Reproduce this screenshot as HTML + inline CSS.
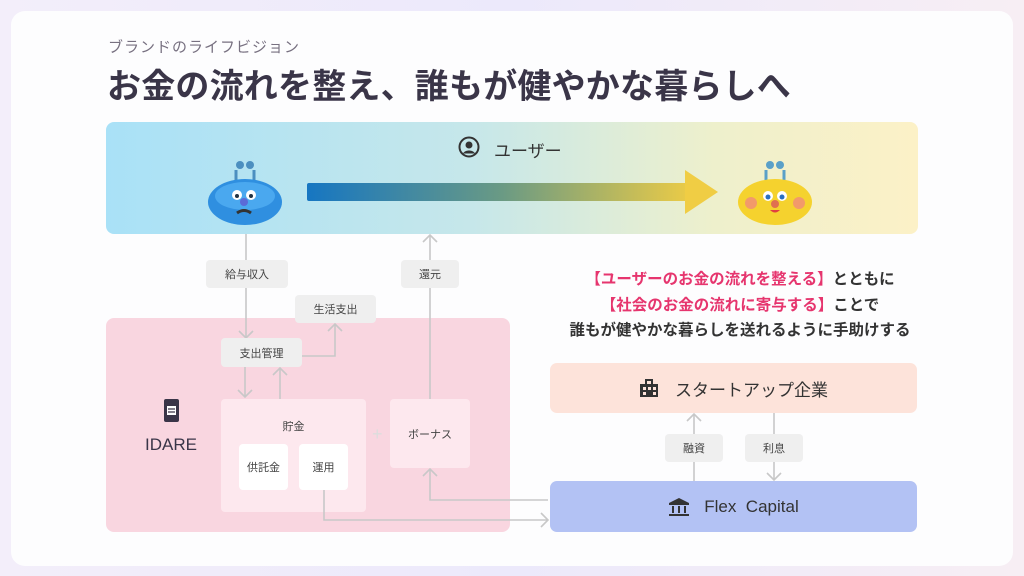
<!DOCTYPE html>
<html><head><meta charset="utf-8"><style>
*{margin:0;padding:0;box-sizing:border-box}
body{width:1024px;height:576px;overflow:hidden;background:linear-gradient(90deg,#f3eefa,#ece9fb 50%,#f7eef4);font-family:"Liberation Sans","Noto Sans CJK JP",sans-serif;position:relative;color:#3a3548}
.card{position:absolute;left:11px;top:11px;width:1002px;height:555px;background:#fdfdfe;border-radius:14px}
.a{position:absolute}
.lbl{position:absolute;background:#efefef;border-radius:4px;font-size:11px;color:#444;display:flex;align-items:center;justify-content:center}
.c{display:flex;align-items:center;justify-content:center}
</style></head><body>
<div class="card"></div>
<div class="a" style="left:108px;top:36px;font-size:15px;color:#777080;letter-spacing:1px">ブランドのライフビジョン</div>
<div class="a" style="left:107px;top:59px;font-size:34px;font-weight:bold;color:#3a3548;letter-spacing:0.2px;white-space:nowrap">お金の流れを整え、誰もが健やかな暮らしへ</div>

<div class="a" style="left:106px;top:122px;width:812px;height:112px;border-radius:8px;background:linear-gradient(90deg,#a9e1f7,#c6e7ea 45%,#eef0cc 75%,#fcf1c7)"></div>
<svg class="a" style="left:458px;top:136px" width="22" height="22" viewBox="0 0 22 22"><circle cx="11" cy="11" r="9.5" fill="none" stroke="#333" stroke-width="2"/><circle cx="11" cy="9" r="3.5" fill="#333"/><path d="M5 17.5c2-4 10-4 12 0" fill="#333"/></svg>
<div class="a" style="left:494px;top:137px;font-size:17px;color:#333">ユーザー</div>
<svg class="a" style="left:300px;top:165px" width="430" height="52"><defs><linearGradient id="g" x1="0" x2="1"><stop offset="0" stop-color="#1676c2"/><stop offset="0.5" stop-color="#6a9a84"/><stop offset="1" stop-color="#f0cd44"/></linearGradient></defs><rect x="7" y="18" width="390" height="18" rx="2" fill="url(#g)"/><path d="M385 5 L418 27 L385 49 Z" fill="#f0cd44"/></svg>
<svg class="a" style="left:206px;top:158px" width="80" height="68"><circle cx="34" cy="7" r="4" fill="#4c8fc0"/><circle cx="44" cy="7" r="4" fill="#4c8fc0"/><path d="M30 12 L30 22 M48 12 L48 22" stroke="#4c8fc0" stroke-width="3"/><ellipse cx="39" cy="44" rx="37" ry="23" fill="#2f8fe0"/><ellipse cx="39" cy="38" rx="30" ry="14" fill="#4aa8ef"/><circle cx="31" cy="37" r="5" fill="#fff"/><circle cx="45" cy="37" r="5" fill="#fff"/><circle cx="31" cy="38" r="2" fill="#234"/><circle cx="45" cy="38" r="2" fill="#234"/><circle cx="38" cy="44" r="4" fill="#5b6bd8"/><path d="M31 55 Q38 50 45 55" stroke="#333" stroke-width="3" fill="none"/></svg>
<svg class="a" style="left:736px;top:158px" width="80" height="68"><circle cx="34" cy="7" r="4" fill="#5aa0c8"/><circle cx="44" cy="7" r="4" fill="#5aa0c8"/><path d="M30 12 L30 22 M48 12 L48 22" stroke="#5aa0c8" stroke-width="3"/><ellipse cx="39" cy="44" rx="37" ry="23" fill="#f5d22e"/><circle cx="15" cy="45" r="6" fill="#f29a6a"/><circle cx="63" cy="45" r="6" fill="#f29a6a"/><circle cx="32" cy="38" r="5" fill="#fff"/><circle cx="46" cy="38" r="5" fill="#fff"/><circle cx="32" cy="39" r="2.5" fill="#2a6fc0"/><circle cx="46" cy="39" r="2.5" fill="#2a6fc0"/><circle cx="39" cy="46" r="4" fill="#e07050"/><path d="M34 52 Q39 57 44 52" fill="#e04040"/></svg>

<div class="a" style="left:106px;top:318px;width:404px;height:214px;border-radius:8px;background:#f9d6e0"></div>
<div class="a" style="left:221px;top:399px;width:145px;height:113px;border-radius:4px;background:#fde8ee"></div>
<div class="a" style="left:221px;top:418px;width:145px;text-align:center;font-size:11px;color:#444">貯金</div>
<div class="a c" style="left:239px;top:444px;width:49px;height:46px;border-radius:4px;background:#fff;font-size:11px;color:#444">供託金</div>
<div class="a c" style="left:299px;top:444px;width:49px;height:46px;border-radius:4px;background:#fff;font-size:11px;color:#444">運用</div>
<div class="a" style="left:372px;top:424px;font-size:18px;color:#ddd">+</div>
<div class="a c" style="left:390px;top:399px;width:80px;height:69px;border-radius:4px;background:#fde8ee;font-size:11px;color:#444">ボーナス</div>
<svg class="a" style="left:163px;top:398px" width="17" height="25"><rect x="1" y="1" width="15" height="23" rx="2" fill="#3a3548"/><rect x="4" y="8" width="9" height="9" fill="#fff"/><path d="M5 11h7M5 14h7" stroke="#3a3548" stroke-width="1.3"/></svg>
<div class="a" style="left:145px;top:435px;font-size:17px;color:#3a3548">IDARE</div>

<svg class="a" style="left:0;top:0" width="1024" height="576" fill="none" stroke="#c8c8c8" stroke-width="1.6">
<path d="M246 234V338M239 331l7 7 7-7"/>
<path d="M245 367V397M238 390l7 7 7-7"/>
<path d="M280 399V368M273 375l7-7 7 7"/>
<path d="M302 356H335V324M328 331l7-7 7 7"/>
<path d="M430 399V235M423 242l7-7 7 7"/>
<path d="M548 500H430V469M423 476l7-7 7 7"/>
<path d="M324 490V520H548M541 513l7 7-7 7"/>
<path d="M694 481V414M687 421l7-7 7 7"/>
<path d="M774 413V480M767 473l7 7 7-7"/>
</svg>
<div class="lbl" style="left:206px;top:260px;width:82px;height:28px">給与収入</div>
<div class="lbl" style="left:401px;top:260px;width:58px;height:28px">還元</div>
<div class="lbl" style="left:295px;top:295px;width:81px;height:28px">生活支出</div>
<div class="lbl" style="left:221px;top:338px;width:81px;height:29px">支出管理</div>

<div class="a" style="left:538px;top:267px;width:404px;text-align:center;font-size:15.5px;font-weight:bold;line-height:25.5px;color:#333"><span style="color:#e6356e">【ユーザーのお金の流れを整える】</span>とともに<br><span style="color:#e6356e">【社会のお金の流れに寄与する】</span>ことで<br>誰もが健やかな暮らしを送れるように手助けする</div>

<div class="a c" style="left:550px;top:363px;width:367px;height:50px;border-radius:7px;background:#fde3da;font-size:17px;color:#333"><svg width="20" height="20" style="margin-right:16px"><rect x="1" y="6" width="18" height="13" fill="#333"/><rect x="6" y="1" width="8" height="6" fill="#333"/><g fill="#fde3da"><rect x="4" y="9" width="3" height="3"/><rect x="9" y="9" width="3" height="3"/><rect x="14" y="9" width="3" height="3"/><rect x="4" y="14" width="3" height="3"/><rect x="14" y="14" width="3" height="3"/><rect x="8" y="3" width="4" height="3"/></g></svg>スタートアップ企業</div>
<div class="lbl" style="left:665px;top:434px;width:58px;height:28px">融資</div>
<div class="lbl" style="left:745px;top:434px;width:58px;height:28px">利息</div>
<div class="a c" style="left:550px;top:481px;width:367px;height:51px;border-radius:7px;background:#b3c2f4;font-size:17px;color:#333"><svg width="22" height="20" style="margin-right:14px"><path d="M11 1L21 6H1Z" fill="#333"/><rect x="1" y="6" width="20" height="2" fill="#333"/><rect x="4" y="9" width="2" height="7" fill="#333"/><rect x="10" y="9" width="2" height="7" fill="#333"/><rect x="16" y="9" width="2" height="7" fill="#333"/><rect x="1" y="17" width="20" height="2" fill="#333"/></svg>Flex&nbsp;&nbsp;Capital</div>
</body></html>
